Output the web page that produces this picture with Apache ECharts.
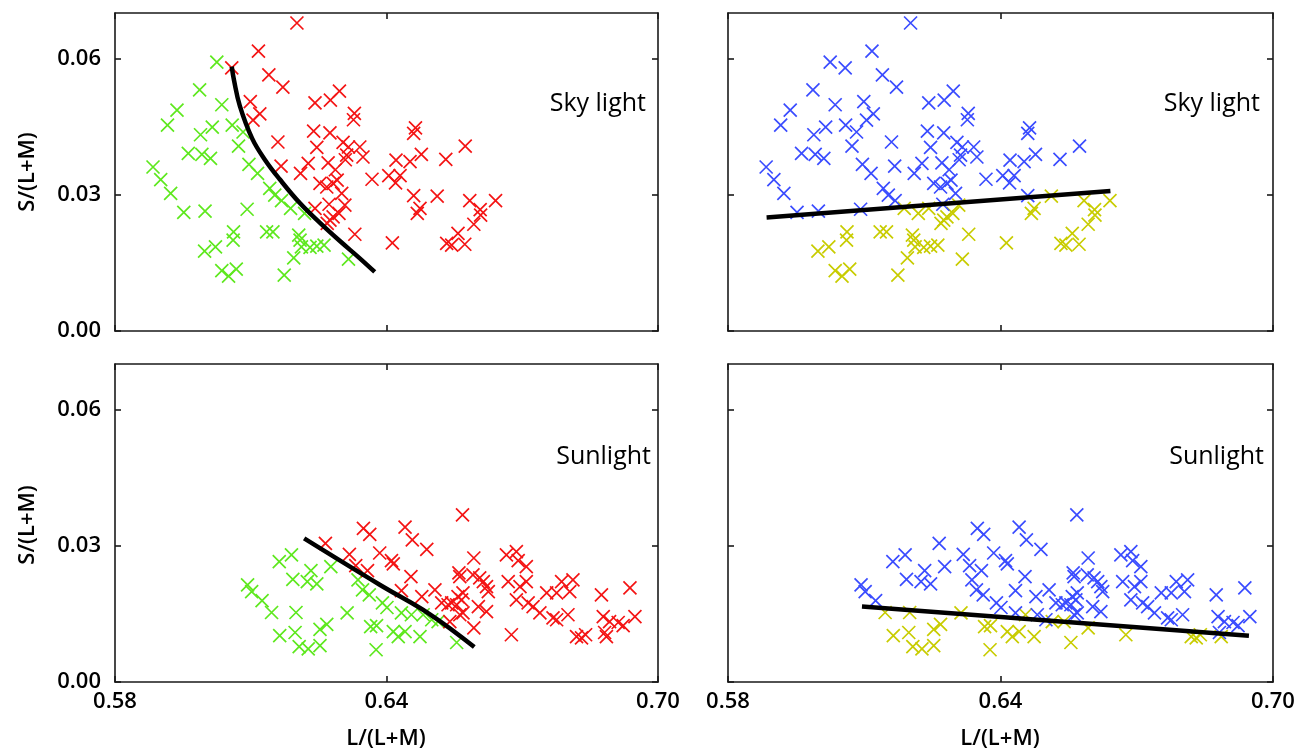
<!DOCTYPE html>
<html><head><meta charset="utf-8">
<script src="https://cdn.jsdelivr.net/npm/echarts@6/dist/echarts.min.js"></script>
<style>html,body{margin:0;background:#fff}#c{width:1298px;height:756px}</style>
</head><body><div id="c"></div><script>
// Tick labels
const xTicks = [0.58, 0.64, 0.70];
const yTicks = [0.00, 0.03, 0.06];
const xName = 'L/(L+M)';
const yName = 'S/(L+M)';
const panelLabels = ['Sky light', 'Sky light', 'Sunlight', 'Sunlight'];

// Sky light points: [L/(L+M), S/(L+M), class in left panel (R/G), class in right panel (B/Y)]
const skyPoints = [
[0.6202,0.0678,'R','B'],[0.6117,0.0616,'R','B'],[0.6025,0.0592,'G','B'],[0.6058,0.0579,'R','B'],
[0.6140,0.0564,'R','B'],[0.6171,0.0537,'R','B'],[0.5987,0.0531,'G','B'],[0.6099,0.0505,'R','B'],
[0.6242,0.0502,'R','B'],[0.6276,0.0508,'R','B'],[0.6296,0.0528,'R','B'],[0.5937,0.0486,'G','B'],
[0.6036,0.0498,'G','B'],[0.6120,0.0478,'R','B'],[0.6105,0.0464,'R','B'],[0.6329,0.0479,'R','B'],
[0.6327,0.0465,'R','B'],[0.5916,0.0453,'G','B'],[0.6015,0.0449,'G','B'],[0.6059,0.0453,'G','B'],
[0.6083,0.0438,'G','B'],[0.5989,0.0432,'G','B'],[0.6239,0.0440,'R','B'],[0.6275,0.0436,'R','B'],
[0.6160,0.0416,'R','B'],[0.6073,0.0407,'G','B'],[0.6246,0.0404,'R','B'],[0.6304,0.0415,'R','B'],
[0.6316,0.0405,'R','B'],[0.6341,0.0405,'R','B'],[0.6312,0.0387,'R','B'],[0.6348,0.0383,'R','B'],
[0.5962,0.0391,'G','B'],[0.5992,0.0389,'G','B'],[0.6011,0.0380,'G','B'],[0.6271,0.0370,'R','B'],
[0.6227,0.0369,'R','B'],[0.6309,0.0377,'R','B'],[0.6421,0.0376,'R','B'],[0.5884,0.0361,'G','B'],
[0.6096,0.0367,'G','B'],[0.6167,0.0363,'R','B'],[0.6287,0.0355,'R','B'],[0.6210,0.0347,'R','B'],
[0.5901,0.0333,'G','B'],[0.6115,0.0347,'G','B'],[0.6368,0.0334,'R','B'],[0.6405,0.0342,'R','B'],
[0.6420,0.0326,'R','B'],[0.6291,0.0332,'R','B'],[0.6253,0.0325,'R','B'],[0.6268,0.0317,'R','B'],
[0.6282,0.0325,'R','B'],[0.5923,0.0303,'G','B'],[0.6142,0.0314,'G','B'],[0.6153,0.0299,'G','B'],
[0.6301,0.0303,'R','B'],[0.6464,0.0447,'R','B'],[0.6460,0.0435,'R','B'],[0.6574,0.0407,'R','B'],
[0.6477,0.0389,'R','B'],[0.6531,0.0378,'R','B'],[0.6452,0.0373,'R','B'],[0.6430,0.0342,'R','B'],
[0.6460,0.0298,'R','B'],[0.6512,0.0297,'R','Y'],[0.6584,0.0287,'R','Y'],[0.6641,0.0287,'R','Y'],
[0.5952,0.0261,'G','B'],[0.5999,0.0264,'G','B'],[0.6092,0.0268,'G','B'],[0.6168,0.0287,'G','B'],
[0.6188,0.0270,'G','Y'],[0.6219,0.0259,'G','Y'],[0.6242,0.0270,'R','Y'],[0.6273,0.0279,'R','B'],
[0.6308,0.0277,'R','Y'],[0.6295,0.0259,'R','Y'],[0.6275,0.0244,'R','Y'],[0.6269,0.0237,'R','Y'],
[0.6282,0.0251,'R','Y'],[0.6330,0.0213,'R','Y'],[0.6413,0.0194,'R','Y'],[0.6474,0.0270,'R','Y'],
[0.6468,0.0259,'R','Y'],[0.6607,0.0267,'R','Y'],[0.6608,0.0255,'R','Y'],[0.6593,0.0235,'R','Y'],
[0.6558,0.0215,'R','Y'],[0.6533,0.0193,'R','Y'],[0.6544,0.0189,'R','Y'],[0.6573,0.0191,'R','Y'],
[0.6135,0.0218,'G','Y'],[0.6149,0.0218,'G','Y'],[0.6062,0.0218,'G','Y'],[0.6061,0.0200,'G','Y'],
[0.6206,0.0211,'G','Y'],[0.6209,0.0200,'G','Y'],[0.6212,0.0185,'G','Y'],[0.6231,0.0184,'G','Y'],
[0.6246,0.0187,'G','Y'],[0.6262,0.0189,'G','Y'],[0.6022,0.0185,'G','Y'],[0.5998,0.0176,'G','Y'],
[0.6195,0.0161,'G','Y'],[0.6316,0.0158,'G','Y'],[0.6036,0.0133,'G','Y'],[0.6051,0.0121,'G','Y'],
[0.6068,0.0136,'G','Y'],[0.6174,0.0123,'G','Y']
];

// Sunlight points: [L/(L+M), S/(L+M), class in left panel (R/G), class in right panel (B/Y)]
const sunPoints = [
[0.6265,0.0305,'R','B'],[0.6318,0.0281,'R','B'],[0.6332,0.0256,'R','B'],[0.6349,0.0338,'R','B'],
[0.6363,0.0325,'R','B'],[0.6385,0.0284,'R','B'],[0.6358,0.0245,'R','B'],[0.6568,0.0368,'R','B'],
[0.6441,0.0341,'R','B'],[0.6457,0.0313,'R','B'],[0.6489,0.0292,'R','B'],[0.6411,0.0267,'R','B'],
[0.6415,0.0260,'R','B'],[0.6593,0.0273,'R','B'],[0.6454,0.0232,'R','B'],[0.6560,0.0240,'R','B'],
[0.6562,0.0232,'R','B'],[0.6591,0.0236,'R','B'],[0.6606,0.0229,'R','B'],[0.6614,0.0221,'R','B'],
[0.6621,0.0210,'R','B'],[0.6625,0.0199,'R','B'],[0.6433,0.0201,'R','B'],[0.6478,0.0188,'R','B'],
[0.6507,0.0203,'R','B'],[0.6522,0.0174,'R','B'],[0.6536,0.0170,'R','B'],[0.6544,0.0174,'R','B'],
[0.6558,0.0188,'R','B'],[0.6566,0.0181,'R','B'],[0.6569,0.0196,'R','B'],[0.6555,0.0170,'R','B'],
[0.6562,0.0148,'R','B'],[0.6569,0.0152,'R','B'],[0.6540,0.0133,'R','Y'],[0.6603,0.0166,'R','B'],
[0.6621,0.0155,'R','B'],[0.6593,0.0119,'R','Y'],[0.6676,0.0104,'R','Y'],[0.6665,0.0280,'R','B'],
[0.6687,0.0287,'R','B'],[0.6691,0.0267,'R','B'],[0.6709,0.0254,'R','B'],[0.6669,0.0221,'R','B'],
[0.6695,0.0210,'R','B'],[0.6709,0.0221,'R','B'],[0.6687,0.0181,'R','B'],[0.6713,0.0174,'R','B'],
[0.6724,0.0166,'R','B'],[0.6739,0.0152,'R','B'],[0.6754,0.0196,'R','B'],[0.6776,0.0196,'R','B'],
[0.6787,0.0221,'R','B'],[0.6812,0.0225,'R','B'],[0.6805,0.0199,'R','B'],[0.6768,0.0141,'R','B'],
[0.6776,0.0137,'R','B'],[0.6801,0.0148,'R','B'],[0.6820,0.0100,'R','Y'],[0.6831,0.0097,'R','Y'],
[0.6840,0.0104,'R','Y'],[0.6875,0.0192,'R','B'],[0.6938,0.0207,'R','B'],[0.6879,0.0144,'R','B'],
[0.6893,0.0133,'R','B'],[0.6912,0.0131,'R','B'],[0.6923,0.0124,'R','B'],[0.6949,0.0144,'R','B'],
[0.6882,0.0109,'R','B'],[0.6886,0.0100,'R','Y'],
[0.6093,0.0214,'G','B'],[0.6102,0.0199,'G','B'],[0.6125,0.0179,'G','B'],[0.6146,0.0153,'G','Y'],
[0.6163,0.0265,'G','B'],[0.6190,0.0280,'G','B'],[0.6193,0.0226,'G','B'],[0.6233,0.0245,'G','B'],
[0.6225,0.0221,'G','B'],[0.6246,0.0216,'G','B'],[0.6277,0.0254,'G','B'],[0.6200,0.0153,'G','Y'],
[0.6164,0.0102,'G','Y'],[0.6198,0.0109,'G','Y'],[0.6207,0.0078,'G','Y'],[0.6227,0.0073,'G','Y'],
[0.6253,0.0080,'G','Y'],[0.6253,0.0116,'G','Y'],[0.6268,0.0127,'G','Y'],[0.6313,0.0152,'G','Y'],
[0.6337,0.0225,'G','B'],[0.6347,0.0203,'G','B'],[0.6362,0.0192,'G','B'],[0.6391,0.0174,'G','B'],
[0.6401,0.0164,'G','B'],[0.6365,0.0122,'G','Y'],[0.6378,0.0124,'G','Y'],[0.6377,0.0071,'G','Y'],
[0.6415,0.0111,'G','Y'],[0.6426,0.0100,'G','Y'],[0.6441,0.0111,'G','Y'],[0.6474,0.0100,'G','Y'],
[0.6433,0.0152,'G','B'],[0.6455,0.0148,'G','Y'],[0.6481,0.0148,'G','B'],[0.6500,0.0137,'G','B'],
[0.6514,0.0133,'G','Y'],[0.6555,0.0087,'G','Y']
];

// Boundary curves / lines
const skyLeftCurve = [[0.6058,0.0582],[0.6063,0.0552],[0.6076,0.0495],[0.6103,0.0424],[0.6132,0.0376],
  [0.6164,0.0334],[0.6209,0.0281],[0.6253,0.0238],[0.6297,0.0198],[0.6341,0.0160],[0.6374,0.0130]];
const skyRightLine = [[0.5885,0.0250],[0.6642,0.0308]];
const sunLeftLine = [[0.6218,0.0316],[0.6385,0.0214],[0.6496,0.0149],[0.6594,0.0077]];
const sunRightLine = [[0.6095,0.0166],[0.6947,0.0102]];

const colors = {R:'#f41414', G:'#5ee81e', B:'#3a4cff', Y:'#c8cc00'};
const FONT = 'Open Sans';
const AX = '#1a1a1a';

const grids = [
  {left:115, top:13, width:543, height:318},
  {left:728, top:13, width:545, height:318},
  {left:115, top:364, width:543, height:318},
  {left:728, top:364, width:545, height:318}
];

const xAxes = [], yAxes = [];
for (let i = 0; i < 4; i++) {
  const common = {type:'value', gridIndex:i, splitLine:{show:false},
    axisLine:{show:true, onZero:false, lineStyle:{color:AX, width:1.6}}};
  xAxes.push(Object.assign({}, common, {min:0.58, max:0.70, position:'bottom',
    axisTick:{show:true, inside:true, length:6, customValues:xTicks, lineStyle:{color:AX, width:1.6}},
    axisLabel:{show:i>=2, customValues:xTicks, formatter:v=>v.toFixed(2), fontSize:22, fontWeight:600, fontFamily:FONT, color:'#000', margin:9}}));
  yAxes.push(Object.assign({}, common, {min:0, max:0.07, position:'left',
    axisTick:{show:true, inside:true, length:6, customValues:yTicks, lineStyle:{color:AX, width:1.6}},
    axisLabel:{show:i%2===0, customValues:yTicks, formatter:v=>v.toFixed(2), fontSize:22, fontWeight:600, fontFamily:FONT, color:'#000', margin:14}}));
}
for (let i = 0; i < 4; i++) {
  const common = {type:'value', gridIndex:i, splitLine:{show:false},
    axisLine:{show:true, onZero:false, lineStyle:{color:AX, width:1.6}}, axisLabel:{show:false}};
  xAxes.push(Object.assign({}, common, {min:0.58, max:0.70, position:'top',
    axisTick:{show:true, inside:true, length:6, customValues:xTicks, lineStyle:{color:AX, width:1.6}}}));
  yAxes.push(Object.assign({}, common, {min:0, max:0.07, position:'right',
    axisTick:{show:true, inside:true, length:6, customValues:yTicks, lineStyle:{color:AX, width:1.6}}}));
}

const XSYM = 'path://M0,0L10,10M10,0L0,10';
function scatter(pts, idx, col, cls) {
  const data = pts.filter(p => p[col] === cls).map(p => [p[0], p[1]]);
  return {type:'scatter', xAxisIndex:idx, yAxisIndex:idx, data, symbol:XSYM, symbolSize:13,
    itemStyle:{color:'none', borderColor:colors[cls], borderWidth:1.7, opacity:1}, silent:true};
}
function line(data, idx, smooth) {
  return {type:'line', xAxisIndex:idx, yAxisIndex:idx, data, showSymbol:false, smooth:smooth,
    lineStyle:{color:'#000', width:4.5, cap:'butt'}, z:5, silent:true};
}

const series = [
  scatter(skyPoints,0,2,'G'), scatter(skyPoints,0,2,'R'),
  scatter(skyPoints,1,3,'Y'), scatter(skyPoints,1,3,'B'),
  scatter(sunPoints,2,2,'G'), scatter(sunPoints,2,2,'R'),
  scatter(sunPoints,3,3,'Y'), scatter(sunPoints,3,3,'B'),
  line(skyLeftCurve,0,0.4), line(skyRightLine,1,false),
  line(sunLeftLine,2,0.4), line(sunRightLine,3,false)
];

const graphic = [];
const labelPos = [[646,104],[1260,104],[651,457],[1264,457]];
panelLabels.forEach((t,i) => graphic.push({type:'text', x:labelPos[i][0], y:labelPos[i][1],
  style:{text:t, textAlign:'right', textVerticalAlign:'middle', fontFamily:FONT, fontSize:25, fontWeight:500, fill:'#000'}}));
[[28,172],[28,525]].forEach(p => graphic.push({type:'text', x:p[0], y:p[1], rotation:Math.PI/2,
  style:{text:yName, textAlign:'center', textVerticalAlign:'middle', fontFamily:FONT, fontSize:22, fontWeight:600, fill:'#000'}}));
[[386,739],[1000,739]].forEach(p => graphic.push({type:'text', x:p[0], y:p[1],
  style:{text:xName, textAlign:'center', textVerticalAlign:'middle', fontFamily:FONT, fontSize:22, fontWeight:600, fill:'#000'}}));

const chart = echarts.init(document.getElementById('c'), null, {renderer:'canvas'});
chart.setOption({animation:false, backgroundColor:'#fff', grid:grids, xAxis:xAxes, yAxis:yAxes, series, graphic});
</script></body></html>
